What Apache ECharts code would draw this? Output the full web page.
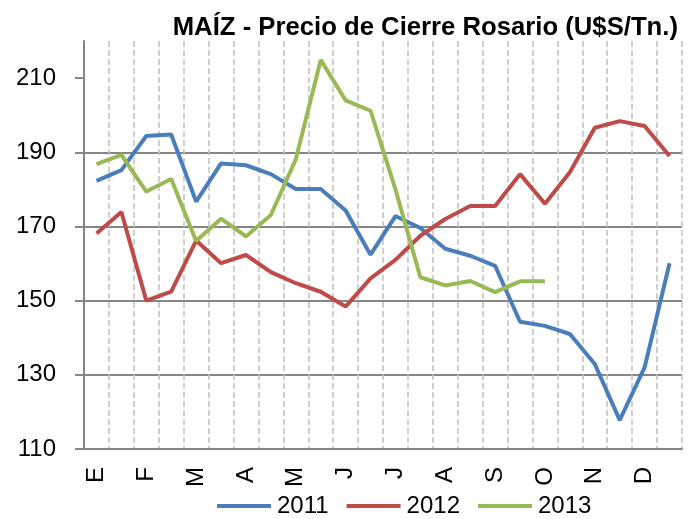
<!DOCTYPE html>
<html>
<head>
<meta charset="utf-8">
<script src="https://cdn.jsdelivr.net/npm/echarts@6/dist/echarts.min.js"></script>
<style>
  html, body { margin: 0; padding: 0; background: #fff; }
  #chart { width: 694px; height: 519px; }
</style>
</head>
<body>
<div id="chart"></div>
<script>
// meses (una etiqueta cada dos quincenas)
var months = ['E', 'F', 'M', 'A', 'M', 'J', 'J', 'A', 'S', 'O', 'N', 'D'];
var periods = ['E1', 'E2', 'F1', 'F2', 'M1', 'M2', 'A1', 'A2', 'My1', 'My2', 'J1', 'J2',
               'Jl1', 'Jl2', 'Ag1', 'Ag2', 'S1', 'S2', 'O1', 'O2', 'N1', 'N2', 'D1', 'D2'];
var yTicks = [110, 130, 150, 170, 190, 210];

var price2011 = [182.3, 185.2, 194.4, 194.8, 176.7, 187.0, 186.5, 184.1, 180.1, 180.1, 174.3, 162.4,
                 172.8, 169.6, 164.0, 162.1, 159.4, 144.3, 143.2, 141.0, 132.9, 117.8, 132.0, 160.1];
var price2012 = [168.1, 173.9, 150.0, 152.4, 166.2, 160.1, 162.3, 157.7, 154.7, 152.4, 148.4, 156.0,
                 161.0, 167.5, 172.0, 175.5, 175.5, 184.1, 176.1, 184.6, 196.6, 198.4, 197.1, 189.0];
var price2013 = [186.8, 189.3, 179.4, 182.8, 166.1, 172.1, 167.3, 173.1, 188.1, 214.9, 204.0, 201.2,
                 180.0, 156.3, 154.1, 155.3, 152.3, 155.2, 155.2];

var colors = ['#4A7EBB', '#BE4B48', '#98B954'];
var font = 'Liberation Sans, Arial, sans-serif';

var myChart = echarts.init(document.getElementById('chart'));

var option = {
    color: colors,
    animation: false,
    title: {
        text: 'MAÍZ - Precio de Cierre Rosario (U$S/Tn.)',
        right: 16,
        top: 15,
        padding: 0,
        textStyle: {
            fontFamily: font,
            fontSize: 25.7,
            fontWeight: 'bold',
            color: '#000'
        }
    },
    legend: {
        data: ['2011', '2012', '2013'],
        left: 217,
        top: 494,
        icon: 'rect',
        itemWidth: 54,
        itemHeight: 4,
        itemGap: 18,
        padding: 0,
        textStyle: {
            fontFamily: font,
            fontSize: 24,
            color: '#000',
            padding: [0, 0, 0, 1]
        }
    },
    grid: {
        left: 84,
        right: 12,
        top: 41,
        bottom: 70
    },
    xAxis: {
        type: 'category',
        data: periods,
        boundaryGap: true,
        axisLine: {
            lineStyle: { color: '#868686', width: 2 }
        },
        axisTick: {
            interval: 0,
            length: 9,
            lineStyle: { color: '#868686', width: 2 }
        },
        axisLabel: {
            interval: 0,
            rotate: 90,
            margin: 18,
            fontFamily: font,
            fontSize: 24,
            color: '#000',
            formatter: function (v, i) {
                return i % 2 === 0 ? months[i / 2] : '';
            }
        },
        splitLine: {
            show: true,
            interval: 0,
            lineStyle: { color: '#c0c0c0', width: 1.5, type: [6, 3] }
        }
    },
    yAxis: {
        type: 'value',
        min: 110,
        max: 220,
        interval: 20,
        axisLine: {
            show: true,
            lineStyle: { color: '#868686', width: 2 }
        },
        axisTick: {
            show: true,
            length: 9,
            customValues: yTicks,
            lineStyle: { color: '#868686', width: 2 }
        },
        axisLabel: {
            margin: 28,
            fontFamily: font,
            fontSize: 24,
            color: '#000',
            showMaxLabel: false
        },
        splitLine: {
            show: true,
            showMaxLine: false,
            lineStyle: { color: '#868686', width: 2 }
        }
    },
    series: [
        {
            name: '2011',
            type: 'line',
            symbol: 'none',
            lineStyle: { width: 4 },
            data: price2011
        },
        {
            name: '2012',
            type: 'line',
            symbol: 'none',
            lineStyle: { width: 4 },
            data: price2012
        },
        {
            name: '2013',
            type: 'line',
            symbol: 'none',
            lineStyle: { width: 4 },
            data: price2013
        }
    ]
};

myChart.setOption(option);
</script>
</body>
</html>
